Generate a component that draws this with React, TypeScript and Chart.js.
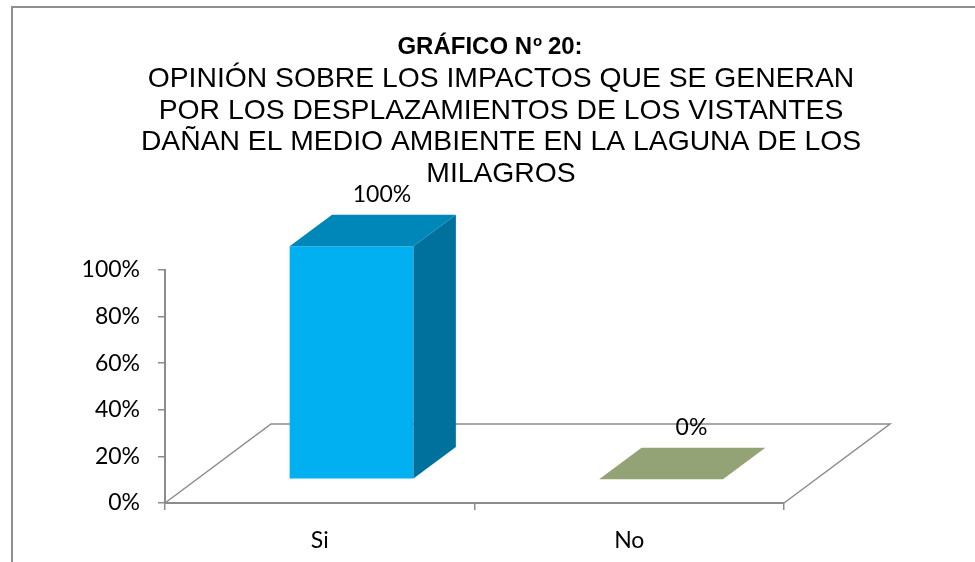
import React, { useEffect, useRef } from "react";
import { Chart, registerables } from "chart.js";

Chart.register(...registerables);

const CATEGORIES = ["Si", "No"];
const VALUES = [100, 0];
const VALUE_LABELS = ["100%", "0%"];
const Y_TICKS = [0, 20, 40, 60, 80, 100];
const TITLE_PARTS = ["GRÁFICO N", "o", " 20:"];
const SUBTITLE_LINES = [
  "OPINIÓN SOBRE LOS IMPACTOS QUE SE GENERAN",
  "POR LOS DESPLAZAMIENTOS DE LOS VISTANTES",
  "DAÑAN EL MEDIO AMBIENTE EN LA LAGUNA DE LOS",
  "MILAGROS",
];

const FRONT_COLORS = ["#00B0F0", "#9BBB59"];
const TOP_COLORS = ["#0087B9", "#94A375"];
const SIDE_COLORS = ["#00709C", "#7C9148"];

const DEPTH_X = 106;
const DEPTH_Y = -79;
const GAP_FRAC = 0.3;
const BAR_FRAC = 0.4;
const AXIS_COLOR = "#8C8C8C";
const TICK_FONT = { family: "Lato, 'Open Sans', sans-serif", size: 23 };

const threeD = {
  id: "threeD",
  beforeDraw(chart: any) {
    const ctx = chart.ctx;
    ctx.save();
    ctx.fillStyle = "#ffffff";
    ctx.fillRect(0, 0, chart.width, chart.height);
    ctx.strokeStyle = "#8F8F8F";
    ctx.lineWidth = 2;
    ctx.strokeRect(12, 7, chart.width + 50, chart.height + 50);
    ctx.restore();
  },
  beforeDatasetsDraw(chart: any) {
    const ctx = chart.ctx;
    const xs = chart.scales.x;
    const ys = chart.scales.y;
    const y0 = ys.getPixelForValue(0);
    const x0 = xs.left;
    const x1 = xs.right;
    ctx.save();
    ctx.strokeStyle = AXIS_COLOR;
    ctx.lineWidth = 1.5;
    ctx.beginPath();
    ctx.moveTo(x0, y0);
    ctx.lineTo(x0 + DEPTH_X, y0 + DEPTH_Y);
    ctx.lineTo(x1 + DEPTH_X, y0 + DEPTH_Y);
    ctx.lineTo(x1, y0);
    ctx.stroke();
    ctx.restore();
  },
  beforeDatasetDraw(chart: any) {
    chart.ctx.save();
    chart.ctx.translate(DEPTH_X * GAP_FRAC, DEPTH_Y * GAP_FRAC);
  },
  afterDatasetDraw(chart: any, args: any) {
    const ctx = chart.ctx;
    ctx.restore();
    const meta = chart.getDatasetMeta(args.index);
    const fx = DEPTH_X * GAP_FRAC;
    const fy = DEPTH_Y * GAP_FRAC;
    const bx = DEPTH_X * BAR_FRAC;
    const by = DEPTH_Y * BAR_FRAC;
    meta.data.forEach((bar: any, i: number) => {
      const p = bar.getProps(["x", "y", "base", "width"], true);
      const left = p.x - p.width / 2 + fx;
      const right = p.x + p.width / 2 + fx;
      const top = Math.min(p.y, p.base) + fy;
      const bottom = Math.max(p.y, p.base) + fy;
      ctx.save();
      if (bottom - top > 0.5) {
        ctx.fillStyle = SIDE_COLORS[i];
        ctx.beginPath();
        ctx.moveTo(right, top);
        ctx.lineTo(right + bx, top + by);
        ctx.lineTo(right + bx, bottom + by);
        ctx.lineTo(right, bottom);
        ctx.closePath();
        ctx.fill();
      }
      ctx.fillStyle = TOP_COLORS[i];
      ctx.beginPath();
      ctx.moveTo(left, top);
      ctx.lineTo(right, top);
      ctx.lineTo(right + bx, top + by);
      ctx.lineTo(left + bx, top + by);
      ctx.closePath();
      ctx.fill();
      // value label
      ctx.fillStyle = "#000000";
      ctx.font = `${TICK_FONT.size}px ${TICK_FONT.family}`;
      ctx.textAlign = "center";
      ctx.textBaseline = "middle";
      ctx.fillText(VALUE_LABELS[i], (left + right) / 2 + bx - 12, top + by - 20);
      ctx.restore();
    });
  },
  afterDraw(chart: any) {
    const ctx = chart.ctx;
    ctx.save();
    ctx.fillStyle = "#000000";
    ctx.textBaseline = "alphabetic";
    // bold title with superscript
    const boldFont = "bold 24px 'Liberation Sans', Arial, sans-serif";
    const supFont = "bold 15px 'Liberation Sans', Arial, sans-serif";
    ctx.font = boldFont;
    const w0 = ctx.measureText(TITLE_PARTS[0]).width;
    const w2 = ctx.measureText(TITLE_PARTS[2]).width;
    ctx.font = supFont;
    const w1 = ctx.measureText(TITLE_PARTS[1]).width;
    const total = w0 + w1 + w2;
    let x = 490 - total / 2;
    ctx.textAlign = "left";
    ctx.font = boldFont;
    ctx.fillText(TITLE_PARTS[0], x, 54);
    x += w0;
    ctx.font = supFont;
    ctx.fillText(TITLE_PARTS[1], x + 1, 46);
    x += w1;
    ctx.font = boldFont;
    ctx.fillText(TITLE_PARTS[2], x, 54);
    ctx.font = "28.3px 'Liberation Sans', Arial, sans-serif";
    ctx.textAlign = "center";
    SUBTITLE_LINES.forEach((line, i) => {
      ctx.fillText(line, 501, 87 + i * 31.5);
    });
    ctx.restore();
  },
};

export default function App() {
  const ref = useRef<HTMLCanvasElement | null>(null);
  useEffect(() => {
    if (!ref.current) return;
    const chart = new Chart(ref.current, {
      type: "bar",
      data: {
        labels: CATEGORIES,
        datasets: [
          {
            data: VALUES,
            backgroundColor: FRONT_COLORS,
            borderWidth: 0,
            barPercentage: 0.8,
            categoryPercentage: 0.5,
            clip: false as any,
          },
        ],
      },
      options: {
        animation: false,
        responsive: true,
        maintainAspectRatio: false,
        events: [],
        layout: { padding: { left: 0, right: 191, top: 270, bottom: 0 } },
        plugins: {
          legend: { display: false },
          tooltip: { enabled: false },
          title: { display: false },
        },
        scales: {
          x: {
            type: "category",
            offset: true,
            grid: {
              offset: true,
              drawOnChartArea: false,
              drawTicks: true,
              tickLength: 7,
              color: AXIS_COLOR,
              lineWidth: 1.5,
            },
            border: { color: AXIS_COLOR, width: 2 },
            ticks: { font: TICK_FONT, color: "#000000", padding: 17 },
            afterFit: (s: any) => {
              s.height = 59;
            },
          },
          y: {
            min: 0,
            max: 100,
            afterBuildTicks: (s: any) => {
              s.ticks = Y_TICKS.map((v) => ({ value: v }));
            },
            grid: {
              drawOnChartArea: false,
              tickLength: 7,
              color: AXIS_COLOR,
              lineWidth: 1.5,
            },
            border: { color: AXIS_COLOR, width: 2 },
            ticks: {
              font: TICK_FONT,
              color: "#000000",
              padding: 18,
              callback: (v: any) => `${v}%`,
            },
            afterFit: (s: any) => {
              s.width = 165;
            },
          },
        },
      },
      plugins: [threeD],
    });
    return () => chart.destroy();
  }, []);
  return (
    <div style={{ position: "absolute", left: 0, top: 0, width: 975, height: 562 }}>
      <canvas ref={ref} />
    </div>
  );
}
